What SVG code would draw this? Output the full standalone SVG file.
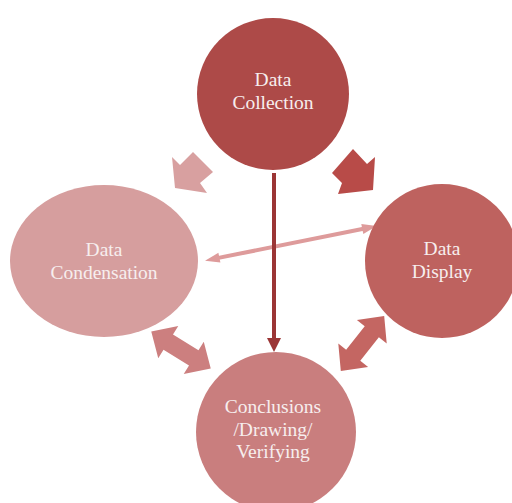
<svg xmlns="http://www.w3.org/2000/svg" xmlns:xlink="http://www.w3.org/1999/xlink" width="512" height="503" viewBox="0 0 512 503">
<style>
text{font-family:"Liberation Serif","Times New Roman",serif;font-size:19.5px;fill:#F7EEEE;text-anchor:middle}
</style>
<defs>
<polygon id="dbl" points="-35,0 -15,-19 -15,-9 15,-9 15,-19 35,0 15,19 15,9 -15,9 -15,19"/>
</defs>
<rect width="512" height="503" fill="#FFFFFF"/>
<g id="connectors">
<polygon id="arrow-collection-condensation" fill="#D8A0A0" points="193,152 213,172 200,183 207,193 175,188 172,157 180,165"/>
<polygon id="arrow-collection-display" fill="#B84B48" points="353,149 367,164 375,157 373,190 338,194 342,183 332,173"/>
<use id="arrow-condensation-conclusions" xlink:href="#dbl" fill="#CC7F7F" transform="translate(181,350) rotate(31.8)"/>
<use id="arrow-display-conclusions" xlink:href="#dbl" fill="#C46662" transform="translate(362.5,343.5) rotate(-51.7)"/>
<g id="arrow-condensation-display" fill="#DE9B9B" stroke="none">
<line x1="216" y1="258.4" x2="366" y2="228.3" stroke="#DE9B9B" stroke-width="4"/>
<polygon points="205,260.7 218.4,252.8 220.4,262.6"/>
<polygon points="376.7,226 363.3,233.9 361.3,224.1"/>
</g>
<g id="arrow-collection-conclusions">
<line x1="274" y1="173" x2="274" y2="340" stroke="#9B3535" stroke-width="4"/>
<polygon points="267,338 281,338 274,352" fill="#9B3535"/>
</g>
</g>
<g id="node-collection">
<circle cx="273" cy="94" r="76" fill="#AD4A48"/>
<text x="273" y="86">Data</text>
<text x="273" y="109">Collection</text>
</g>
<g id="node-condensation">
<ellipse cx="104" cy="261" rx="94" ry="76" fill="#D69E9E"/>
<text x="104" y="256">Data</text>
<text x="104" y="279">Condensation</text>
</g>
<g id="node-display">
<circle cx="442" cy="261" r="77" fill="#BE625F"/>
<text x="442" y="255">Data</text>
<text x="442" y="278">Display</text>
</g>
<g id="node-conclusions">
<circle cx="276" cy="432" r="80" fill="#C97E7E"/>
<text x="273" y="413">Conclusions</text>
<text x="273" y="435.5">/Drawing/</text>
<text x="273" y="458">Verifying</text>
</g>
</svg>
